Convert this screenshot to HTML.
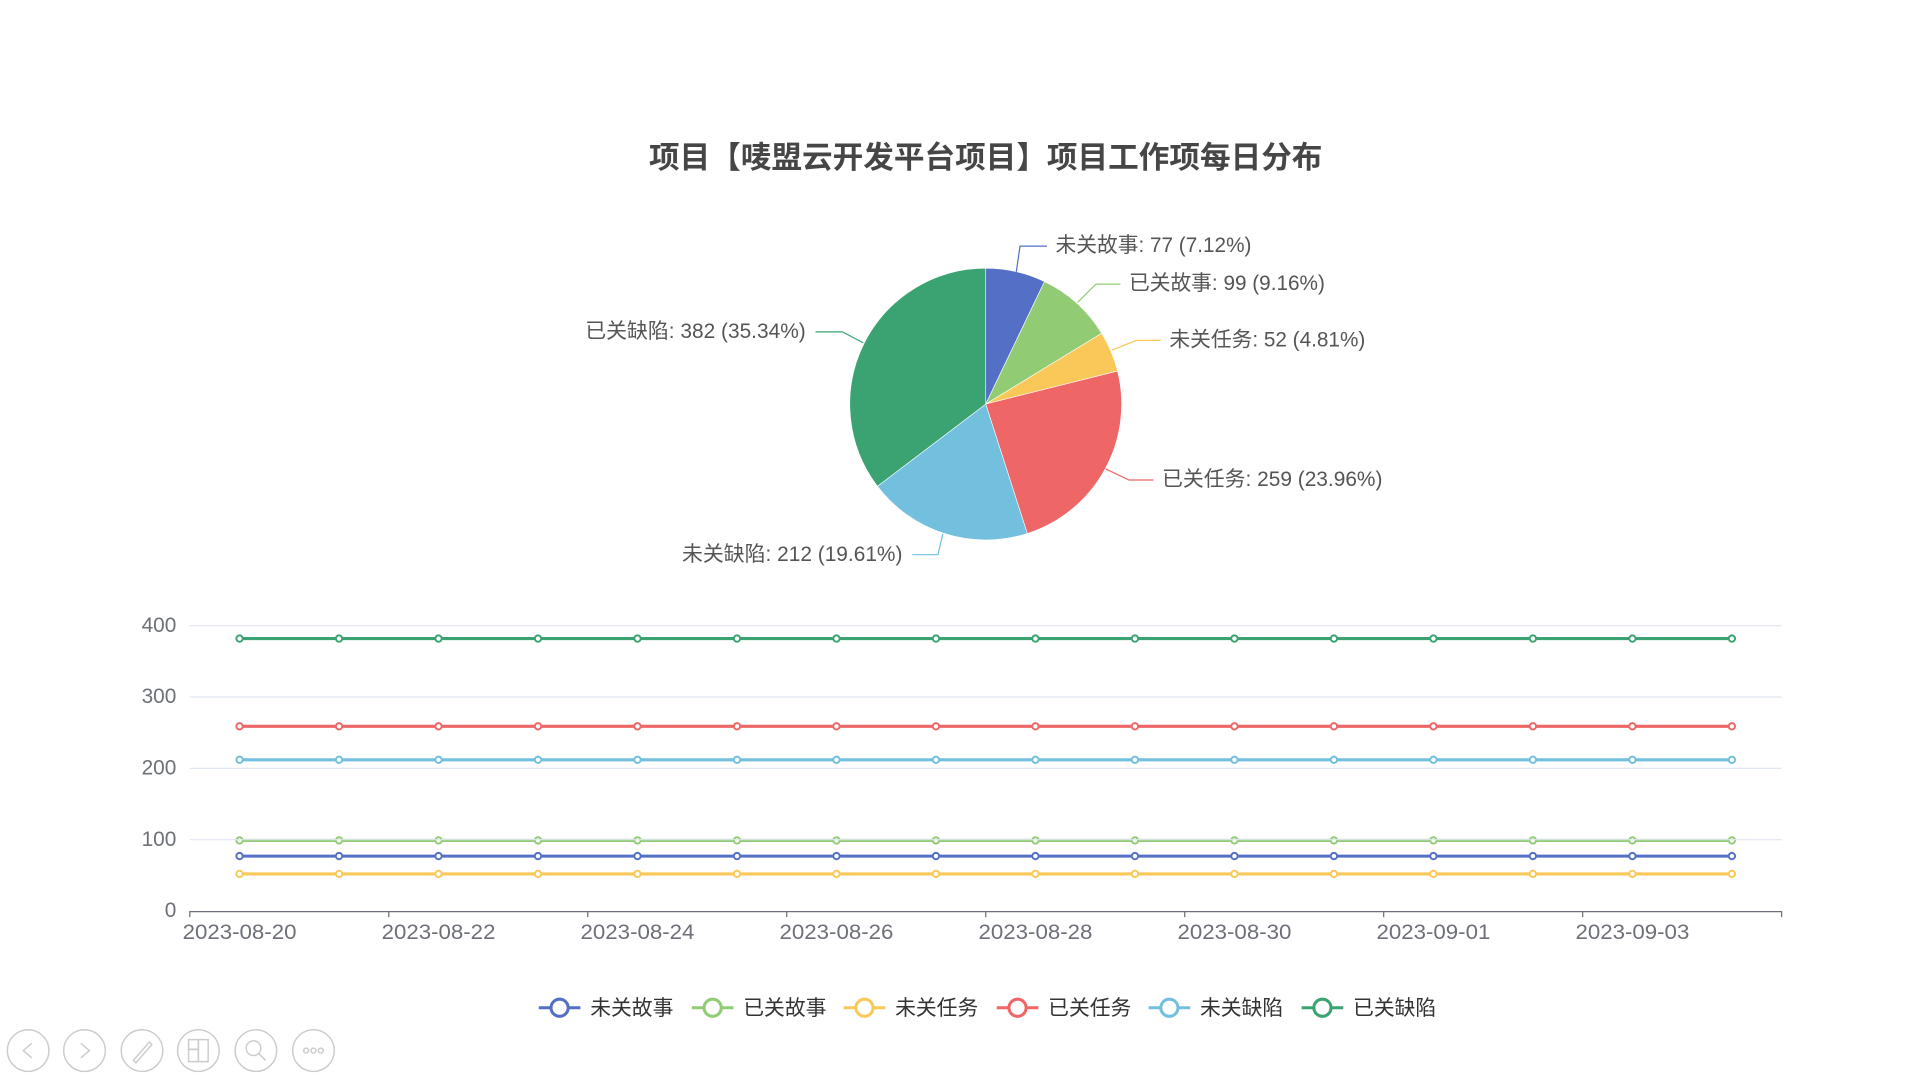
<!DOCTYPE html>
<html><head><meta charset="utf-8"><style>
html,body{margin:0;padding:0;background:#fff;width:1920px;height:1080px;overflow:hidden}
svg text{font-family:"Liberation Sans","Noto Sans CJK SC",sans-serif}
</style></head><body>
<svg width="1920" height="1080" viewBox="0 0 1568 882" xmlns="http://www.w3.org/2000/svg">
<text x="805" y="137" text-anchor="middle" font-size="25" font-weight="bold" fill="#464646">项目【唛盟云开发平台项目】项目工作项每日分布</text>
<g id="pie"></g>
<g id="lines"></g>
<g id="axes"></g>
<g id="legend"></g>
<g fill="none" stroke="#ccc" stroke-width="1.2">
<circle cx="23" cy="858" r="17"/><circle cx="69" cy="858" r="17"/><circle cx="116" cy="858" r="17"/><circle cx="162" cy="858" r="17"/><circle cx="209" cy="858" r="17"/><circle cx="256" cy="858" r="17"/>
<path d="M26 852 L19 858 L26 864"/><path d="M66 852 L73 858 L66 864"/>
<path d="M109 866 L122 851 L124 853 L111 868 Z"/>
<rect x="154" y="849" width="8" height="8"/><rect x="162" y="849" width="8" height="18"/><rect x="154" y="857" width="8" height="10"/>
<circle cx="207" cy="856" r="6"/><path d="M211 860 L217 866"/>
<circle cx="250" cy="858" r="2"/><circle cx="256" cy="858" r="2"/><circle cx="262" cy="858" r="2"/>
</g>
<script>
var C=["#5470c6","#91cc75","#fac858","#ee6666","#73c0de","#3ba272"];
var N=["未关故事","已关故事","未关任务","已关任务","未关缺陷","已关缺陷"];
var V=[77,99,52,259,212,382];
var ns="http://www.w3.org/2000/svg";
function el(p,t,a,txt){var e=document.createElementNS(ns,t);for(var k in a)e.setAttribute(k,a[k]);if(txt)e.textContent=txt;document.getElementById(p).appendChild(e);return e;}
var cx=805,cy=330,r=111,tot=1081,a0=0;
for(var i=0;i<6;i++){var a1=a0+V[i]/tot*2*Math.PI;
var x0=cx+r*Math.sin(a0),y0=cy-r*Math.cos(a0),x1=cx+r*Math.sin(a1),y1=cy-r*Math.cos(a1);
el("pie","path",{d:"M"+cx+" "+cy+" L"+x0+" "+y0+" A"+r+" "+r+" 0 "+((a1-a0)>Math.PI?1:0)+" 1 "+x1+" "+y1+" Z",fill:C[i],stroke:"#fff","stroke-width":0.5});a0=a1;}
var L=[[[830,222],[833,201],[855,201],862,"start",160],[[880,247],[895,232],[915,232],922,"start",160],[[908,286],[928,278],[948,278],955,"start",160],[[903,383],[922,392],[942,392],949,"start",180],[[770,436],[766,453],[745,453],737,"end",180],[[705,280],[688,271],[666,271],658,"end",180]];
var P=["7.12%","9.16%","4.81%","23.96%","19.61%","35.34%"];
for(var i=0;i<6;i++){var l=L[i];el("pie","polyline",{points:l[0]+" "+l[1]+" "+l[2],fill:"none",stroke:C[i],"stroke-width":1});
el("pie","text",{x:l[3],y:l[2][1]+5,"text-anchor":l[4],"font-size":17,fill:"#555",textLength:l[5],lengthAdjust:"spacingAndGlyphs"},N[i]+": "+V[i]+" ("+P[i]+")");}
function Y(v){return 744-v*0.5825;}
for(var g=1;g<=4;g++)el("axes","line",{x1:155,x2:1455,y1:Y(g*100),y2:Y(g*100),stroke:"#e0e6f1","stroke-width":1});
for(var g=0;g<=4;g++)el("axes","text",{x:144,y:Y(g*100)+5,"text-anchor":"end","font-size":17,fill:"#6e7079"},String(g*100));
el("axes","line",{x1:155,x2:1455,y1:744.5,y2:744.5,stroke:"#6e7079","stroke-width":1});
var w=1300/16;
for(var k=0;k<=8;k++)el("axes","line",{x1:155+k*2*w,x2:155+k*2*w,y1:744,y2:749,stroke:"#6e7079"});
var D=["2023-08-20","2023-08-22","2023-08-24","2023-08-26","2023-08-28","2023-08-30","2023-09-01","2023-09-03"];
for(var k=0;k<8;k++)el("axes","text",{x:155+w/2+k*2*w,y:767,"text-anchor":"middle","font-size":17,fill:"#6e7079",textLength:93,lengthAdjust:"spacingAndGlyphs"},D[k]);
var ord=[5,3,4,1,0,2];
for(var j=0;j<6;j++){var i=ord[j];var y=Y(V[i]);
el("lines","line",{x1:155+w/2,x2:155+w/2+15*w,y1:y,y2:y,stroke:C[i],"stroke-width":2.5});
for(var p=0;p<16;p++)el("lines","circle",{cx:155+w/2+p*w,cy:y,r:2.6,fill:"#fff",stroke:C[i],"stroke-width":1.6});}
var LX=[457,582,706,831,955,1080];
for(var i=0;i<6;i++){el("legend","line",{x1:LX[i]-17,x2:LX[i]+17,y1:823,y2:823,stroke:C[i],"stroke-width":2.5});
el("legend","circle",{cx:LX[i],cy:823,r:7,fill:"#fff",stroke:C[i],"stroke-width":2.5});
el("legend","text",{x:LX[i]+25,y:829,"font-size":17,fill:"#333"},N[i]);}
</script>
</svg>
</body></html>
